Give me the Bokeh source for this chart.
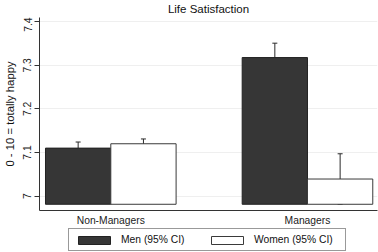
import numpy as np
from bokeh.plotting import figure
from bokeh.layouts import column
from bokeh.models import (ColumnDataSource, Range1d, FixedTicker, Whisker, TeeHead,
                          Legend, LegendItem, Label)
from bokeh.embed import file_html
from bokeh.resources import INLINE

# ---- data ----
groups = ["Non-Managers", "Managers"]
men_mean = [7.110, 7.318]
men_lo = [7.096, 7.285]
men_hi = [7.124, 7.351]
women_mean = [7.120, 7.039]
women_lo = [7.109, 6.981]
women_hi = [7.131, 7.097]
bar_base = 6.981
y_ticks = [7.0, 7.1, 7.2, 7.3, 7.4]
y_tick_labels = ["7", "7.1", "7.2", "7.3", "7.4"]
title_text = "Life Satisfaction"
y_label_text = "0 - 10 = totally happy"
series_names = ["Men (95% CI)", "Women (95% CI)"]

FONT = "Liberation Sans"
MEN_FILL, MEN_LINE = "#363636", "#222222"
WOMEN_FILL, WOMEN_LINE = "white", "#3a3a3a"
pos = np.arange(1, len(groups) + 1, dtype=float)
off = 0.166
bw = 0.332


def strip(height):
    f = figure(width=378, height=height, output_backend="svg", toolbar_location=None,
               x_range=Range1d(0, 1), y_range=Range1d(0, 1),
               x_axis_type=None, y_axis_type=None,
               min_border_left=0, min_border_right=0, min_border_top=0, min_border_bottom=0)
    f.outline_line_color = None
    f.xgrid.grid_line_color = None
    f.ygrid.grid_line_color = None
    f.border_fill_color = "white"
    return f


men_src = ColumnDataSource(dict(x=pos - off, top=men_mean, lo=men_lo, hi=men_hi))
women_src = ColumnDataSource(dict(x=pos + off, top=women_mean, lo=women_lo, hi=women_hi))

# ---- title strip ----
tf = strip(17)
tf.add_layout(Label(x=0.5, y=8.5, x_units="data", y_units="screen", text=title_text,
                    text_align="center", text_baseline="alphabetic", text_font=FONT,
                    text_font_size="11.5px", text_color="#111111"))

# ---- main chart ----
p = figure(width=378, height=211, output_backend="svg", toolbar_location=None,
           x_range=Range1d(0.6375, 2.356), y_range=Range1d(6.9667, 7.41),
           min_border_left=35, min_border_right=1, min_border_top=0, min_border_bottom=18)
p.outline_line_color = None
p.background_fill_color = "white"
p.border_fill_color = "white"

r_men = p.vbar(x="x", top="top", bottom=bar_base, width=bw, source=men_src,
               fill_color=MEN_FILL, line_color=MEN_LINE, line_width=1)
r_women = p.vbar(x="x", top="top", bottom=bar_base, width=bw, source=women_src,
                 fill_color=WOMEN_FILL, line_color=WOMEN_LINE, line_width=1)

for src in (men_src, women_src):
    w = Whisker(base="x", upper="hi", lower="lo", source=src, dimension="height",
                line_color="#2a2a2a", line_width=1,
                upper_head=TeeHead(size=5, line_color="#2a2a2a", line_width=1),
                lower_head=TeeHead(size=5, line_color="#2a2a2a", line_width=1))
    p.add_layout(w)

p.xaxis.ticker = FixedTicker(ticks=list(pos))
p.xaxis.major_label_overrides = {float(v): g for v, g in zip(pos, groups)}
p.xaxis.major_tick_out = 0
p.xaxis.major_tick_in = 0
p.xaxis.minor_tick_out = 0
p.xaxis.minor_tick_in = 0
p.xaxis.axis_line_color = "#333333"
p.xaxis.major_label_text_font = FONT
p.xaxis.major_label_text_font_size = "10.3px"
p.xaxis.major_label_text_color = "#222222"
p.xaxis.major_label_standoff = 4

p.yaxis.ticker = FixedTicker(ticks=y_ticks)
p.yaxis.major_label_overrides = {t: l for t, l in zip(y_ticks, y_tick_labels)}
p.yaxis.major_label_orientation = "vertical"
p.yaxis.major_tick_out = 5
p.yaxis.major_tick_in = 0
p.yaxis.minor_tick_out = 0
p.yaxis.minor_tick_in = 0
p.yaxis.axis_line_color = "#333333"
p.yaxis.major_tick_line_color = "#333333"
p.yaxis.major_label_text_font = FONT
p.yaxis.major_label_text_font_size = "10.3px"
p.yaxis.major_label_text_color = "#222222"
p.yaxis.major_label_standoff = 3
p.yaxis.axis_label = y_label_text
p.yaxis.axis_label_text_font = FONT
p.yaxis.axis_label_text_font_size = "11.3px"
p.yaxis.axis_label_text_font_style = "normal"
p.yaxis.axis_label_text_color = "#111111"
p.yaxis.axis_label_standoff = 5

p.xgrid.grid_line_color = None
p.ygrid.grid_line_color = "#efefef"
p.ygrid.grid_line_width = 1

# ---- legend strip ----
lg = strip(24)
lg.x_range = Range1d(100, 101)
lg.y_range = Range1d(100, 101)
lm = lg.vbar(x="x", top="top", bottom=bar_base, width=bw, source=men_src,
             fill_color=MEN_FILL, line_color=MEN_LINE, line_width=1)
lw = lg.vbar(x="x", top="top", bottom=bar_base, width=bw, source=women_src,
             fill_color=WOMEN_FILL, line_color=WOMEN_LINE, line_width=1)

legend = Legend(items=[LegendItem(label=series_names[0], renderers=[lm]),
                       LegendItem(label=series_names[1], renderers=[lw])],
                location=(29, 1), orientation="horizontal",
                glyph_width=40, glyph_height=10, label_height=10, label_width=86,
                label_standoff=7, spacing=0, padding=5, margin=0,
                label_text_font=FONT, label_text_font_size="10.3px", label_text_color="#111111",
                border_line_color="#333333", border_line_width=1,
                background_fill_color="white", background_fill_alpha=1)
lg.add_layout(legend, "center")

layout = column(tf, p, lg, spacing=0)
open("out.html", "w").write(file_html(layout, INLINE))
